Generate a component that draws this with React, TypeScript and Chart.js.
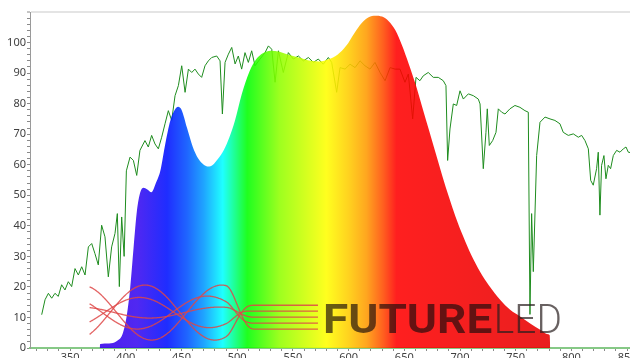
import React, { useEffect, useRef } from "react";
import { Chart, registerables } from "chart.js";

Chart.register(...registerables);

// ---- axis ranges / ticks ----
const X_MIN = 314;
const X_MAX = 852.6;
const Y_MIN = 0;
const Y_MAX = 110;
const X_TICK_STEP = 10;
const X_LABEL_STEP = 50;
const Y_TICK_STEP = 2;
const Y_LABEL_STEP = 10;
const Y_LABEL_MAX = 100;

// ---- LED spectrum (wavelength nm, relative intensity) ----
const ledNm = [376.5, 377, 385, 392, 397, 401, 404, 407, 410, 413, 416, 419, 423, 427, 431, 435, 440, 444, 447, 450, 455, 460, 465, 470, 474, 478, 483, 488, 493, 498, 504, 511, 517, 523, 530, 538, 546, 556, 566, 574, 582, 590, 598, 605, 612, 618, 624, 630, 636, 642, 648, 654, 660, 666, 672, 678, 684, 690, 696, 703, 710, 718, 726, 736, 745, 754, 763, 772, 779, 780.5, 781];
const ledVal = [0, 1.3, 1.5, 2.3, 4.5, 11, 20, 33, 45, 51, 52.5, 52, 51, 54, 58, 66, 74.5, 78, 79, 78, 72, 66, 62, 60, 59.4, 59.9, 62, 64.8, 69, 74.5, 83, 90.5, 94.5, 96.5, 97.3, 97, 96, 95, 94, 93.8, 94.5, 96, 99, 103, 106.5, 108.3, 108.8, 108.5, 107, 104, 99, 93, 86.5, 79, 71.5, 64, 56.5, 49.5, 43, 36.4, 30.5, 25, 20.5, 15.8, 12.5, 10.3, 8, 6, 4.5, 4.2, 0];

// ---- Sunlight reference spectrum ----
const sunNm = [324.5, 327.5, 330.5, 333.5, 336.4, 339.4, 342.4, 345.4, 348.4, 351.4, 354.4, 357.4, 360.4, 363.4, 366.4, 369.4, 372.3, 375.3, 378.3, 381.3, 384.3, 387.3, 390.3, 392.4, 394.2, 396.3, 398.5, 400.5, 403.8, 406.8, 409.8, 412.7, 417.2, 420.2, 423.2, 426.2, 429.2, 432.2, 435.2, 438.2, 441.2, 444.2, 447.2, 450.2, 453.2, 456.2, 459.2, 462.1, 465.1, 468.1, 471.1, 474.1, 477.1, 481.6, 484.6, 486.7, 489.1, 492.1, 495.1, 498.1, 501, 504, 507, 510, 513, 516, 520.5, 525, 528, 531, 534, 537, 541.4, 545.9, 550.4, 554.9, 559.4, 563.9, 568.4, 572.8, 577.3, 581.8, 584.8, 589.3, 592.3, 596.8, 601.3, 605.8, 610.3, 614.7, 619.2, 623.7, 628.2, 632.7, 637.2, 641.7, 646.1, 650.6, 653.6, 657.5, 660.5, 664, 667, 671.5, 676, 680.5, 685, 687.4, 688.9, 691, 694, 697, 700, 703, 707.5, 712, 716.4, 718, 720.9, 723.3, 724.5, 726.3, 729.3, 732.3, 734.4, 737.4, 740.4, 744.8, 749.3, 753.8, 758.3, 761.3, 762.8, 764.3, 765.8, 768.8, 771.8, 776.3, 780.8, 785.2, 789.7, 792.7, 797.2, 801.7, 806.2, 809.2, 812.2, 815.2, 817.3, 819.6, 822.6, 824.1, 825.6, 827.1, 829.2, 831, 833.1, 835.2, 837.6, 840.6, 843.6, 846.6, 849, 851.1, 852.6];
const sunVal = [10.9, 15.8, 17.9, 16.3, 17.9, 16.9, 20.7, 19, 21.7, 20.1, 26, 23.9, 26.6, 23.9, 33.1, 34.2, 30.9, 27.2, 40.2, 36.4, 23.3, 33.1, 37.5, 44, 20.1, 42.9, 30, 58, 62.5, 61.4, 56.5, 64.7, 67.9, 65.8, 69.6, 66.8, 65.2, 69, 73.4, 77.7, 74.5, 82.6, 85.9, 92.4, 83.7, 91.3, 90.2, 91.3, 89.7, 88.6, 92.4, 94, 95.1, 95.6, 94, 76.6, 93.5, 96.2, 98.4, 93, 95.6, 91.3, 96.7, 93.5, 97.3, 92.4, 94.6, 96.7, 98.9, 97.8, 87, 97.3, 90.2, 96.7, 94.6, 95.6, 94, 95.1, 93.5, 94.6, 92.9, 95.1, 93.5, 83.7, 91.8, 91.3, 92.9, 91.8, 94, 92.4, 91.3, 93.5, 90.2, 87.5, 91.8, 91.3, 91.3, 87, 89.7, 75, 88.6, 87.5, 89.1, 90.2, 88.6, 88.6, 87.5, 85.9, 61.4, 71.7, 79.9, 79.4, 84.2, 81.5, 83.2, 82.6, 81.5, 79.9, 58.7, 70.6, 78.3, 66.3, 67.9, 70.6, 78.3, 77.2, 76.6, 78.3, 79.4, 78.8, 77.7, 77.2, 11, 44, 25, 63, 73.9, 75.6, 75, 74.5, 73.4, 70.6, 69.6, 70.1, 69, 69.6, 67.9, 65.2, 54.9, 53.3, 58.7, 64.1, 43.5, 59.8, 63, 55.4, 59.8, 58.7, 63, 64.7, 64.1, 65.2, 65.8, 64.1, 64];

// ---- spectrum colour stops (wavelength nm -> colour) ----
const spectrumStops = [377, 410, 437, 455, 470, 487, 509, 538, 580, 600, 616, 631, 643, 781];
const spectrumColors = [
  "rgba(52,0,235,0.88)", "rgba(56,10,240,0.88)", "rgba(0,16,255,0.88)", "rgba(0,80,255,0.88)",
  "rgba(0,152,255,0.88)", "rgba(0,255,255,0.88)", "rgba(0,255,0,0.88)", "rgba(144,255,0,0.88)",
  "rgba(255,255,0,0.88)", "rgba(255,204,0,0.88)", "rgba(255,154,0,0.88)", "rgba(255,74,0,0.88)",
  "rgba(255,0,0,0.88)", "rgba(230,0,0,0.88)",
];

// ---- watermark logo ----
const logoBold = "FUTURE";
const logoLight = "LED";
const logoStartNm = 577;
const logoSplitNm = 729;
const logoEndNm = 791.5;
const logoBaseVal = 4.9;
const logoCapVal = 14.4;
const waveStartNm = 367.5;
const waveNodeNm = 385.8;
const waveHalfNm = 62.8;
const waveFadeNm = 490;
const waveFadeLen = 25;
const waveEndNm = 572.5;
const waveCenterVal = 11.6;
const waveBaseVals = [14, 12.05, 10.1, 8.15, 6.2];
const waveAmps = [1, 0.55, -0.2, -0.6, -1];
const wavePhases = [0, 0.25, -0.2, 0.35, -0.3];
const waveAmpVal = 9;

const FONT = '"Noto Sans", "DejaVu Sans", sans-serif';

function spectrumFill(ctx: any) {
  const chart = ctx.chart;
  const { chartArea, scales } = chart;
  if (!chartArea) return "rgba(0,0,0,0)";
  const first = spectrumStops[0];
  const last = spectrumStops[spectrumStops.length - 1];
  const g = chart.ctx.createLinearGradient(
    scales.x.getPixelForValue(first), 0,
    scales.x.getPixelForValue(last), 0
  );
  spectrumStops.forEach((nm, i) => {
    g.addColorStop((nm - first) / (last - first), spectrumColors[i]);
  });
  return g;
}

const logoPlugin = {
  id: "logoPlugin",
  afterDatasetsDraw(chart: any) {
    const { ctx, scales } = chart;
    const x = scales.x;
    const y = scales.y;
    ctx.save();
    // waves
    ctx.strokeStyle = "rgba(222,72,72,0.85)";
    ctx.lineWidth = 1.3;
    waveBaseVals.forEach((base, i) => {
      ctx.beginPath();
      let first = true;
      for (let nm = waveStartNm; nm <= waveEndNm; nm += 0.5) {
        const t = Math.min(1, Math.max(0, (nm - waveFadeNm) / waveFadeLen));
        const env = 1 - t * t * (3 - 2 * t);
        const v =
          waveCenterVal * env + base * (1 - env) +
          waveAmpVal * env * waveAmps[i] * Math.sin((Math.PI * (nm - waveNodeNm)) / waveHalfNm + wavePhases[i]);
        const px = x.getPixelForValue(nm);
        const py = y.getPixelForValue(v);
        if (first) { ctx.moveTo(px, py); first = false; }
        else ctx.lineTo(px, py);
      }
      ctx.stroke();
    });
    // text
    const base = y.getPixelForValue(logoBaseVal);
    const cap = base - y.getPixelForValue(logoCapVal);
    const size = cap / 0.711;
    ctx.textBaseline = "alphabetic";
    ctx.textAlign = "left";
    const x0 = x.getPixelForValue(logoStartNm);
    const x1 = x.getPixelForValue(logoSplitNm);
    const x2 = x.getPixelForValue(logoEndNm);
    ctx.font = `bold ${size}px Roboto, "Noto Sans", sans-serif`;
    let w = ctx.measureText(logoBold).width;
    ctx.save();
    ctx.translate(x0, base);
    ctx.scale((x1 - x0) / w, 1);
    ctx.fillStyle = "rgba(25,12,12,0.66)";
    ctx.fillText(logoBold, 0, 0);
    ctx.restore();
    ctx.font = `300 ${size}px Roboto, "Noto Sans", sans-serif`;
    w = ctx.measureText(logoLight).width;
    ctx.save();
    ctx.translate(x1 + 1.5, base);
    ctx.scale((x2 - x1 - 1.5) / w, 1);
    ctx.fillStyle = "rgba(40,30,30,0.7)";
    ctx.fillText(logoLight, 0, 0);
    ctx.restore();
    ctx.restore();
  },
};

export default function App() {
  const ref = useRef<HTMLCanvasElement>(null);
  useEffect(() => {
    if (!ref.current) return;
    const chart = new Chart(ref.current, {
      type: "line",
      data: {
        datasets: [
          {
            label: "LED",
            data: ledNm.map((nm, i) => ({ x: nm, y: ledVal[i] })),
            borderWidth: 0,
            borderColor: "rgba(0,0,0,0)",
            backgroundColor: spectrumFill,
            fill: "origin",
            pointRadius: 0,
            cubicInterpolationMode: "monotone",
          } as any,
          {
            label: "Sun",
            data: sunNm.map((nm, i) => ({ x: nm, y: sunVal[i] })),
            borderColor: "#1e8c1e",
            borderWidth: 1,
            pointRadius: 0,
            fill: false,
            tension: 0,
          },
        ],
      },
      options: {
        animation: false,
        responsive: true,
        maintainAspectRatio: false,
        layout: { padding: { top: 12, left: 0, right: 0, bottom: 0 } },
        plugins: { legend: { display: false }, tooltip: { enabled: false } },
        scales: {
          x: {
            type: "linear",
            min: X_MIN,
            max: X_MAX,
            border: { color: "#86c986", width: 2 },
            grid: { drawOnChartArea: false, tickLength: 3, color: "#8a8a8a" },
            ticks: {
              stepSize: X_TICK_STEP,
              includeBounds: false,
              autoSkip: false,
              maxRotation: 0,
              padding: 0,
              color: "#404040",
              font: { family: FONT, size: 11 },
              callback: (v: any) => (Number(v) % X_LABEL_STEP === 0 ? String(v) : ""),
            },
            afterFit: (s: any) => {
              s.height = 10;
              s.paddingLeft = 0;
              s.paddingRight = 0;
            },
          } as any,
          y: {
            min: Y_MIN,
            max: Y_MAX,
            border: { color: "#9a9a9a", width: 1 },
            grid: {
              drawOnChartArea: true,
              color: (c: any) => (c.tick && c.tick.value === Y_MAX ? "#e4e4e4" : "rgba(0,0,0,0)"),
              lineWidth: (c: any) => (c.tick && c.tick.value === Y_MAX ? 2 : 1),
              tickColor: "#8a8a8a",
              tickWidth: 1,
              tickLength: 3,
            },
            ticks: {
              stepSize: Y_TICK_STEP,
              autoSkip: false,
              padding: 1,
              color: "#404040",
              font: { family: FONT, size: 11 },
              callback: (v: any) => (Number(v) % Y_LABEL_STEP === 0 && Number(v) <= Y_LABEL_MAX ? String(v) : ""),
            },
            afterFit: (s: any) => {
              s.width = 30;
              s.paddingTop = 0;
              s.paddingBottom = 0;
            },
          } as any,
        },
      },
      plugins: [logoPlugin],
    });
    return () => chart.destroy();
  }, []);
  return (
    <div style={{ position: "fixed", left: 0, top: 0, width: 630, height: 358, background: "#fff" }}>
      <canvas ref={ref} />
    </div>
  );
}
